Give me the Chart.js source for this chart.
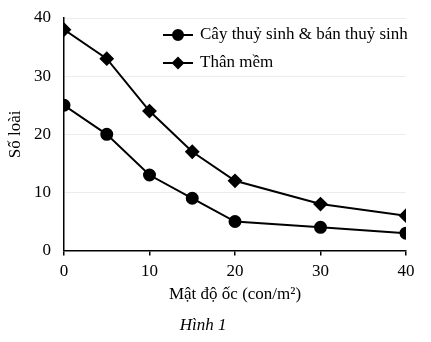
<!DOCTYPE html>
<html>
<head>
<meta charset="utf-8">
<script src="https://cdn.jsdelivr.net/npm/chart.js@4"></script>
<style>
  html, body { margin: 0; padding: 0; background: #fff; }
  #wrap { width: 431px; height: 342px; }
</style>
</head>
<body>
<div id="wrap"><canvas id="densityChart"></canvas></div>
<script>
// Mật độ ốc (con/m2) và số loài
const densities = [0, 5, 10, 15, 20, 30, 40];
const aquaticPlants = [25, 20, 13, 9, 5, 4, 3];
const molluscs = [38, 33, 24, 17, 12, 8, 6];
const seriesNames = ['Cây thuỷ sinh & bán thuỷ sinh', 'Thân mềm'];
const yTicks = [0, 10, 20, 30, 40];

const serif = 'Liberation Serif, Times New Roman, serif';

// legend drawn inside the plot, top right
const insideLegend = {
    id: 'insideLegend',
    afterDraw(chart) {
        const ctx = chart.ctx;
        const x0 = 163, x1 = 193, tx = 200;
        const rows = [35, 63];
        ctx.save();
        chart.data.datasets.forEach((ds, i) => {
            const y = rows[i];
            ctx.strokeStyle = '#000';
            ctx.lineWidth = 2;
            ctx.beginPath();
            ctx.moveTo(x0, y);
            ctx.lineTo(x1, y);
            ctx.stroke();
            ctx.fillStyle = '#000';
            Chart.helpers.drawPoint(ctx, {
                pointStyle: ds.pointStyle,
                radius: 5,
                borderWidth: 1
            }, (x0 + x1) / 2, y);
            ctx.fill();
            ctx.font = '17px ' + serif;
            ctx.textBaseline = 'middle';
            ctx.textAlign = 'left';
            ctx.fillText(ds.label, tx, y);
        });
        ctx.restore();
    }
};

const ctx = document.getElementById('densityChart').getContext('2d');
new Chart(ctx, {
    type: 'line',
    data: {
        datasets: [
            {
                label: seriesNames[0],
                data: densities.map((d, i) => ({ x: d, y: aquaticPlants[i] })),
                borderColor: '#000',
                backgroundColor: '#000',
                borderWidth: 2,
                pointStyle: 'circle',
                pointRadius: 5.5,
                tension: 0,
            },
            {
                label: seriesNames[1],
                data: densities.map((d, i) => ({ x: d, y: molluscs[i] })),
                borderColor: '#000',
                backgroundColor: '#000',
                borderWidth: 2,
                pointStyle: 'rectRot',
                pointRadius: 6,
                tension: 0,
            },
        ],
    },
    options: {
        responsive: true,
        maintainAspectRatio: false,
        animation: false,
        layout: { padding: { left: 0, top: 18, right: 25, bottom: 0 } },
        scales: {
            x: {
                type: 'linear',
                min: 0,
                max: 40,
                afterFit(scale) { scale.height = 57; },
                ticks: {
                    stepSize: 10,
                    color: '#000',
                    padding: 6,
                    font: { family: serif, size: 17 },
                },
                grid: {
                    drawOnChartArea: false,
                    drawTicks: true,
                    tickLength: 5,
                    color: '#000',
                    lineWidth: 1.5,
                },
                border: { color: '#000', width: 1.5 },
                title: {
                    display: true,
                    text: 'Mật độ ốc (con/m²)',
                    color: '#000',
                    font: { family: serif, size: 17 },
                    padding: { top: 0, bottom: 3 },
                },
            },
            y: {
                min: 0,
                max: 40,
                afterFit(scale) {
                    scale.width = 64;
                    scale.paddingTop = 0;
                    scale.paddingBottom = 0;
                },
                afterBuildTicks(scale) { scale.ticks = yTicks.map(v => ({ value: v })); },
                ticks: {
                    color: '#000',
                    padding: 13,
                    font: { family: serif, size: 17 },
                },
                grid: {
                    drawTicks: false,
                    color: '#ececec',
                    lineWidth: 1,
                },
                border: { color: '#000', width: 1.5 },
                title: {
                    display: true,
                    text: 'Số loài',
                    color: '#000',
                    font: { family: serif, size: 17 },
                    padding: { top: 5, bottom: 0 },
                },
            },
        },
        plugins: {
            legend: { display: false },
            tooltip: { enabled: false },
            title: {
                display: true,
                position: 'bottom',
                text: 'Hình 1',
                color: '#000',
                font: { family: serif, size: 17, style: 'italic', weight: 'normal' },
                padding: { top: 8, bottom: 6 },
            },
        },
    },
    plugins: [insideLegend],
});
</script>
</body>
</html>
